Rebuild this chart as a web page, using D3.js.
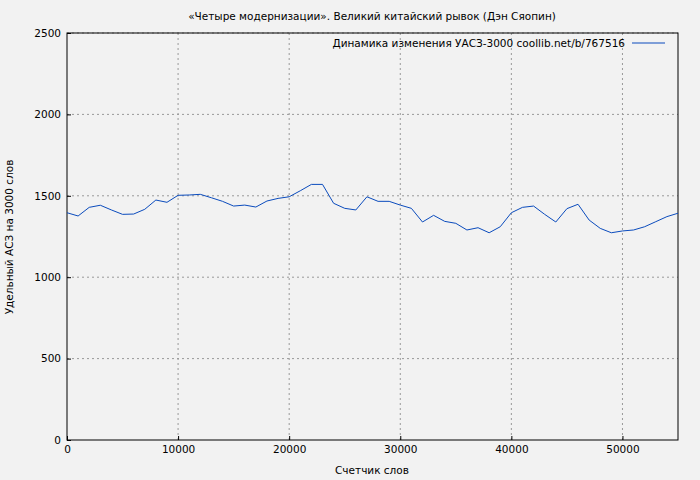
<!DOCTYPE html>
<html><head><meta charset="utf-8">
<script src="https://cdn.jsdelivr.net/npm/d3@7"></script>
<style>body{margin:0;background:#f2f2f2}svg{font-family:"DejaVu Sans",sans-serif}</style>
</head><body><svg id="c" width="700" height="480"></svg>
<script>
const title = "«Четыре модернизации». Великий китайский рывок (Дэн Сяопин)";
const legendLabel = "Динамика изменения УАСЗ-3000 coollib.net/b/767516";
const xLabel = "Счетчик слов";
const yLabel = "Удельный АСЗ на 3000 слов";
const words = d3.range(0, 56000, 1000);
const values = [1396,1376,1429,1442,1413,1386,1388,1417,1474,1460,1503,1505,1509,1488,1466,1437,1443,1431,1468,1484,1494,1531,1570,1570,1454,1423,1413,1494,1466,1466,1443,1423,1339,1380,1343,1331,1290,1304,1273,1310,1396,1429,1437,1386,1339,1421,1448,1351,1300,1273,1284,1290,1310,1341,1372,1393];
const xTicks = [0,10000,20000,30000,40000,50000];
const yTicks = [0,500,1000,1500,2000,2500];

const svg = d3.select("#c");
const m = {l:67, r:678, t:33, b:440};
const x = d3.scaleLinear().domain([0,55000]).range([m.l,m.r]);
const y = d3.scaleLinear().domain([0,2500]).range([m.b,m.t]);
const fs = 10.5;

svg.append("g").selectAll("line").data(xTicks.slice(1)).join("line")
  .attr("x1",d=>x(d)).attr("x2",d=>x(d)).attr("y1",m.t).attr("y2",m.b)
  .attr("stroke","#999").attr("stroke-dasharray","2,3");
svg.append("g").selectAll("line").data(yTicks.slice(1)).join("line")
  .attr("y1",d=>y(d)).attr("y2",d=>y(d)).attr("x1",m.l).attr("x2",m.r)
  .attr("stroke","#999").attr("stroke-dasharray","2,3");

const gx = svg.append("g").attr("transform",`translate(0,${m.b})`)
  .call(d3.axisBottom(x).tickValues(xTicks).tickSize(-4).tickPadding(6).tickFormat(d3.format("d")));
const gy = svg.append("g").attr("transform",`translate(${m.l},0)`)
  .call(d3.axisLeft(y).tickValues(yTicks).tickSize(-4).tickPadding(6).tickFormat(d3.format("d")));
[gx,gy].forEach(g=>{g.select(".domain").remove();g.selectAll("text").attr("font-size",fs).attr("fill","#000").style("font-family","DejaVu Sans");g.selectAll("line").attr("stroke","#000");});

svg.append("rect").attr("x",m.l).attr("y",m.t).attr("width",m.r-m.l).attr("height",m.b-m.t)
  .attr("fill","none").attr("stroke","#000");

svg.append("path").datum(values.map((v,i)=>[words[i],v]))
  .attr("fill","none").attr("stroke","#0a4bbd").attr("stroke-width",1)
  .attr("d",d3.line().x(d=>x(d[0])).y(d=>y(d[1])));

svg.append("text").attr("x",372).attr("y",20).attr("text-anchor","middle").attr("font-size",fs).text(title);
svg.append("text").attr("x",372).attr("y",474).attr("text-anchor","middle").attr("font-size",fs).text(xLabel);
svg.append("text").attr("transform","translate(13,237) rotate(-90)").attr("text-anchor","middle").attr("font-size",fs).text(yLabel);
svg.append("text").attr("x",625).attr("y",47).attr("text-anchor","end").attr("font-size",fs).text(legendLabel);
svg.append("line").attr("x1",632).attr("x2",665).attr("y1",43).attr("y2",43).attr("stroke","#0a4bbd");
</script></body></html>
